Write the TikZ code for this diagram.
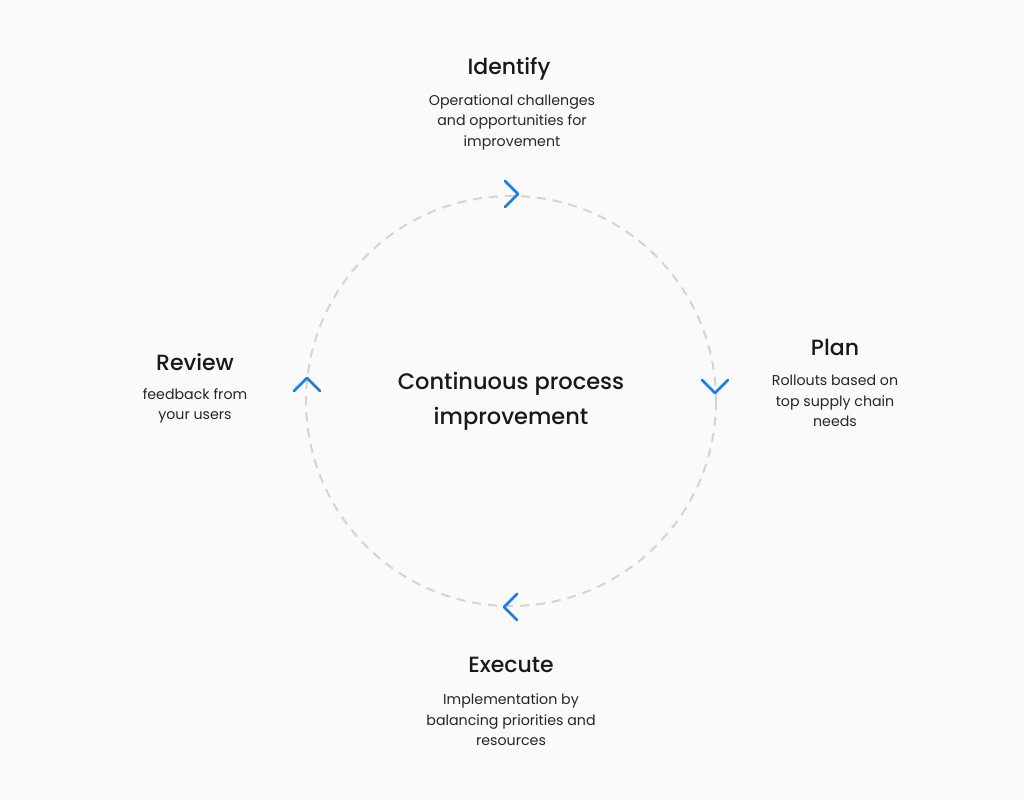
\documentclass[tikz,border=0pt]{standalone}
\usepackage{fontspec}
\setmainfont{Poppins}
\newfontfamily\titlefont{Poppins Medium}
\definecolor{bgcol}{HTML}{FAFAFA}
\definecolor{chevblue}{HTML}{1A7FE0}
\definecolor{ringgray}{HTML}{D4D4D4}
\begin{document}
\begin{tikzpicture}
[x=1pt,y=-1pt,
 title/.style={font=\fontsize{22}{26}\titlefont,text=black!90},
 body/.style={font=\fontsize{14.2}{20.5}\selectfont,align=center,text=black!85},
 centre/.style={font=\fontsize{22.5}{35}\titlefont,align=center,text=black!90},
 chev/.style={draw=chevblue,line width=2.6pt,line cap=round,line join=round},
 ring/.style={draw=ringgray,line width=2pt,dash pattern=on 9pt off 7pt}]
\fill[bgcol] (0,0) rectangle (1024,800);
\draw[ring] (511,401) circle (205);
% step titles and texts
\node[title] (idT) at (509,69)  {Identify};
\node[body]  (idB) at (512,122) {Operational challenges\\and opportunities for\\improvement};
\node[title] (plT) at (835,347) {Plan};
\node[body]  (plB) at (835,401) {Rollouts based on\\top supply chain\\needs};
\node[title] (exT) at (511,665) {Execute};
\node[body]  (exB) at (511,720) {Implementation by\\balancing priorities and\\resources};
\node[title] (rvT) at (195,362) {Review};
\node[body]  (rvB) at (195,406) {feedback from\\your users};
\node[centre] (core) at (511,401) {Continuous process\\improvement};
% chevrons on the ring
\draw[chev] (505,181) -- (518,194) -- (505,207);
\draw[chev] (702,380) -- (715,393) -- (728,380);
\draw[chev] (517,594) -- (504,607) -- (517,620);
\draw[chev] (294,391) -- (307,378) -- (320,391);
\end{tikzpicture}
\end{document}
